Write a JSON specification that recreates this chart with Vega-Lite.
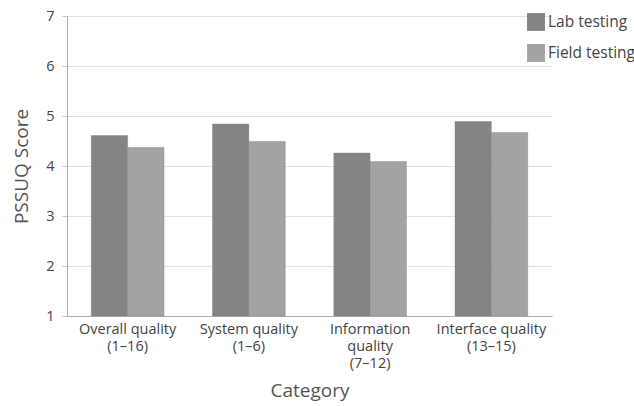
{
  "$schema": "https://vega.github.io/schema/vega-lite/v6.json",
  "width": 485,
  "height": 300,
  "autosize": {"type": "none"},
  "padding": {"left": 67, "top": 16, "right": 82, "bottom": 90},
  "config": {
    "font": "Open Sans",
    "view": {"stroke": null}
  },
  "data": {
    "values": [
      {"category": "Overall quality|(1–16)", "testing": "Lab testing", "score": 4.61},
      {"category": "Overall quality|(1–16)", "testing": "Field testing", "score": 4.37},
      {"category": "System quality|(1–6)", "testing": "Lab testing", "score": 4.84},
      {"category": "System quality|(1–6)", "testing": "Field testing", "score": 4.49},
      {"category": "Information|quality|(7–12)", "testing": "Lab testing", "score": 4.26},
      {"category": "Information|quality|(7–12)", "testing": "Field testing", "score": 4.09},
      {"category": "Interface quality|(13–15)", "testing": "Lab testing", "score": 4.89},
      {"category": "Interface quality|(13–15)", "testing": "Field testing", "score": 4.67}
    ]
  },
  "mark": {"type": "bar", "stroke": "#7a7a7a", "strokeOpacity": 0.35, "strokeWidth": 1},
  "encoding": {
    "x": {
      "field": "category",
      "type": "nominal",
      "sort": null,
      "scale": {"paddingInner": 0.4, "paddingOuter": 0.2},
      "axis": {
        "title": "Category",
        "labelAngle": 0,
        "labelExpr": "split(datum.label, '|')",
        "labelFontSize": 14.5,
        "labelColor": "#444444",
        "labelLineHeight": 17,
        "labelPadding": 6,
        "ticks": false,
        "domainColor": "#b0b0b0",
        "titleFontSize": 19,
        "titleFontWeight": "normal",
        "titleColor": "#555555",
        "titlePadding": 12
      }
    },
    "xOffset": {"field": "testing", "type": "nominal", "sort": ["Lab testing", "Field testing"]},
    "y": {
      "field": "score",
      "type": "quantitative",
      "scale": {"domain": [1, 7], "nice": false, "zero": false},
      "axis": {
        "title": "PSSUQ Score",
        "values": [1, 2, 3, 4, 5, 6, 7],
        "labelFontSize": 14.5,
        "labelColor": "#444444",
        "labelPadding": 8,
        "tickSize": 5,
        "tickColor": "#c8c8c8",
        "domainColor": "#b0b0b0",
        "gridColor": "#e2e2e2",
        "titleFontSize": 19,
        "titleFontWeight": "normal",
        "titleColor": "#555555",
        "titlePadding": 14
      }
    },
    "y2": {"datum": 1},
    "color": {
      "field": "testing",
      "type": "nominal",
      "sort": ["Lab testing", "Field testing"],
      "scale": {"domain": ["Lab testing", "Field testing"], "range": ["#848484", "#a3a3a3"]},
      "legend": {
        "title": null,
        "orient": "none",
        "legendX": 460,
        "legendY": -3,
        "symbolType": "square",
        "symbolSize": 320,
        "symbolStrokeWidth": 0,
        "labelFontSize": 15.5,
        "labelColor": "#444444",
        "rowPadding": 13,
        "labelOffset": 3
      }
    }
  }
}
